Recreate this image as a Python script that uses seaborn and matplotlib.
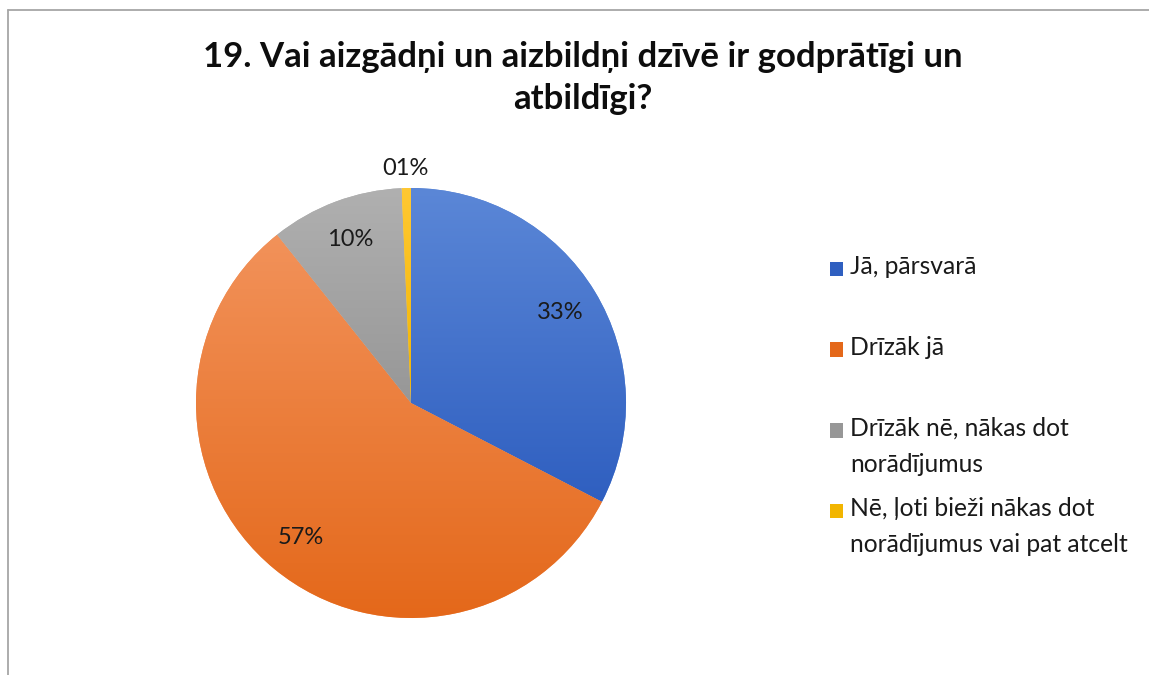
import numpy as np
import matplotlib
matplotlib.use("Agg")
import matplotlib.pyplot as plt
import seaborn as sns
from matplotlib.colors import LinearSegmentedColormap
from matplotlib.lines import Line2D

# ---- data ----
title = "19. Vai aizgādņi un aizbildņi dzīvē ir godprātīgi un\natbildīgi?"
categories = ["Jā, pārsvarā",
              "Drīzāk jā",
              "Drīzāk nē, nākas dot\nnorādījumus",
              "Nē, ļoti bieži nākas dot\nnorādījumus vai pat atcelt"]
values = [32.6, 56.7, 10.0, 0.7]
colors_top = ["#5B87D7", "#F2925A", "#B0B0B0", "#FFC833"]
colors_bottom = ["#2F5FC0", "#E4681A", "#979797", "#F2B500"]

sns.set_theme(style="white")
plt.rcParams['font.family'] = ['Lato', 'DejaVu Sans']

W, H = 1149, 675
fig = plt.figure(figsize=(W / 100, H / 100), dpi=100)
fig.patch.set_facecolor("white")

cx, cy, r = 411, 403, 215
ax = fig.add_axes([(cx - r) / W, (H - cy - r) / H, 2 * r / W, 2 * r / H])

pal = sns.color_palette(colors_top)
wedges, texts, autotexts = ax.pie(
    values, colors=pal, startangle=90, counterclock=False,
    autopct=lambda p: f"{round(p):02d}%", pctdistance=0.81,
    wedgeprops=dict(linewidth=0),
    textprops=dict(fontsize=17, color="#1a1a1a"))
ax.set_xlim(-1, 1)
ax.set_ylim(-1, 1)
ax.set_aspect("equal")
ax.axis("off")

# gradient fill per wedge
fig.canvas.draw()
for w, ct, cb in zip(wedges, colors_top, colors_bottom):
    path = w.get_path()
    ext = w.get_transform().transform_path(path).get_extents()
    inv = ax.transData.inverted()
    (x0, y0), (x1, y1) = inv.transform([[ext.x0, ext.y0], [ext.x1, ext.y1]])
    cmap = LinearSegmentedColormap.from_list("g", [cb, ct])
    grad = np.linspace(0, 1, 256).reshape(-1, 1)
    im = ax.imshow(grad, cmap=cmap, extent=[x0, x1, y0, y1], origin="lower",
                   aspect="auto", zorder=w.get_zorder(), interpolation="bicubic")
    im.set_clip_path(w)
ax.set_xlim(-1, 1)
ax.set_ylim(-1, 1)

# small slice label outside
w = wedges[3]
ang = np.deg2rad((w.theta1 + w.theta2) / 2)
autotexts[3].set_position((1.09 * np.cos(ang), 1.09 * np.sin(ang)))
for t in autotexts:
    t.set_zorder(5)

fig.text(583 / W, 1 - 78 / H, title, ha="center", va="center", fontsize=25,
         fontweight="bold", color="#0d0d0d", linespacing=1.4)

# legend: pad single-line labels so first lines are evenly spaced
labels = [c if "\n" in c else c + "\n " for c in categories]
fs = 17.7
line_px = 33
leg = fig.legend(wedges, labels, loc="upper left",
                 bbox_to_anchor=(830 / W, 1 - 255 / H),
                 frameon=False, fontsize=fs, handlelength=0.53,
                 handleheight=0.53, handletextpad=0.3, labelspacing=0.85,
                 borderpad=0, borderaxespad=0)
for t in leg.get_texts():
    t.set_linespacing(1.72)
    t.set_color("#1a1a1a")
shift = 0.5 * line_px * 0.72
for h, ct, cb in zip(leg.legend_handles, colors_top, colors_bottom):
    h.set_y(h.get_y() + shift)
    h.set_facecolor(cb)
    h.set_linewidth(0)

# chart border (partially visible)
fig.add_artist(Line2D([7.5 / W, 7.5 / W], [0, 1 - 9.5 / H], color="#a6a6a6", lw=1.3))
fig.add_artist(Line2D([7.5 / W, 1], [1 - 9.5 / H, 1 - 9.5 / H], color="#a6a6a6", lw=1.3))

fig.savefig("out.png", dpi=100, facecolor="white")
